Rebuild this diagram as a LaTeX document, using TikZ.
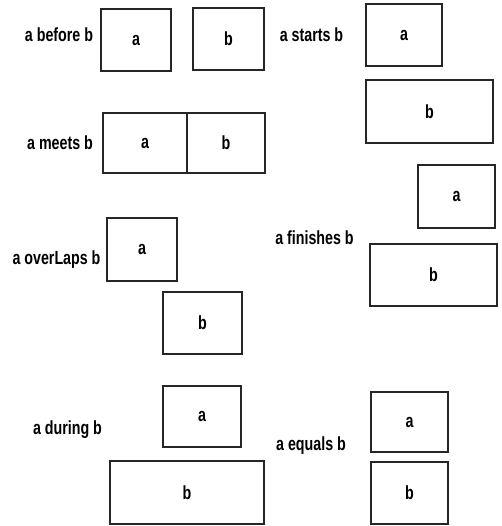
\documentclass[tikz,border=0pt]{standalone}
\usepackage{fontspec}
\newfontfamily\condfont{Liberation Sans}[FakeStretch=0.75]
\tikzset{
  boxst/.style={draw=black!85, line width=1.3pt, inner sep=0pt, outer sep=0pt,
    font=\condfont\bfseries\fontsize{19}{19}\selectfont},
  lbl/.style={anchor=base, inner sep=0pt,
    font=\condfont\bfseries\fontsize{19}{19}\selectfont}
}
\begin{document}
\begin{tikzpicture}[x=1pt,y=-1pt]
\useasboundingbox[fill=white] (0,0) rectangle (501,526);
% a before b
\node[lbl] (lbefore) at (59,42) {a before b};
\node[boxst, minimum width=70pt, minimum height=62pt] (beforeA) at (136,40) {a};
\node[boxst, minimum width=71pt, minimum height=62pt] (beforeB) at (228.5,39) {b};
% a meets b
\node[lbl] (lmeets) at (60,150) {a meets b};
\node[boxst, minimum width=84pt, minimum height=60pt] (meetsA) at (145,143) {a};
\node[boxst, minimum width=78pt, minimum height=60pt] (meetsB) at (226,143) {b};
% a overlaps b
\node[lbl] (loverlaps) at (56.5,264) {a overLaps b};
\node[boxst, minimum width=70pt, minimum height=63pt] (overA) at (142,249.5) {a};
\node[boxst, minimum width=79pt, minimum height=62pt] (overB) at (202.5,323) {b};
% a during b
\node[lbl] (lduring) at (67.5,434) {a during b};
\node[boxst, minimum width=78pt, minimum height=61pt] (durA) at (202,416.5) {a};
\node[boxst, minimum width=154pt, minimum height=63pt] (durB) at (187,492.5) {b};
% a starts b
\node[lbl] (lstarts) at (311.5,42) {a starts b};
\node[boxst, minimum width=76pt, minimum height=62pt] (startA) at (404,35) {a};
\node[boxst, minimum width=127pt, minimum height=63pt] (startB) at (429.5,111.5) {b};
% a finishes b
\node[lbl] (lfinishes) at (314.5,244) {a finishes b};
\node[boxst, minimum width=77pt, minimum height=63pt] (finA) at (456.5,196.5) {a};
\node[boxst, minimum width=127pt, minimum height=62pt] (finB) at (433.5,275) {b};
% a equals b
\node[lbl] (lequals) at (311,450) {a equals b};
\node[boxst, minimum width=77pt, minimum height=60pt] (eqA) at (409.5,422) {a};
\node[boxst, minimum width=77pt, minimum height=62pt] (eqB) at (409.5,493) {b};
\end{tikzpicture}
\end{document}
